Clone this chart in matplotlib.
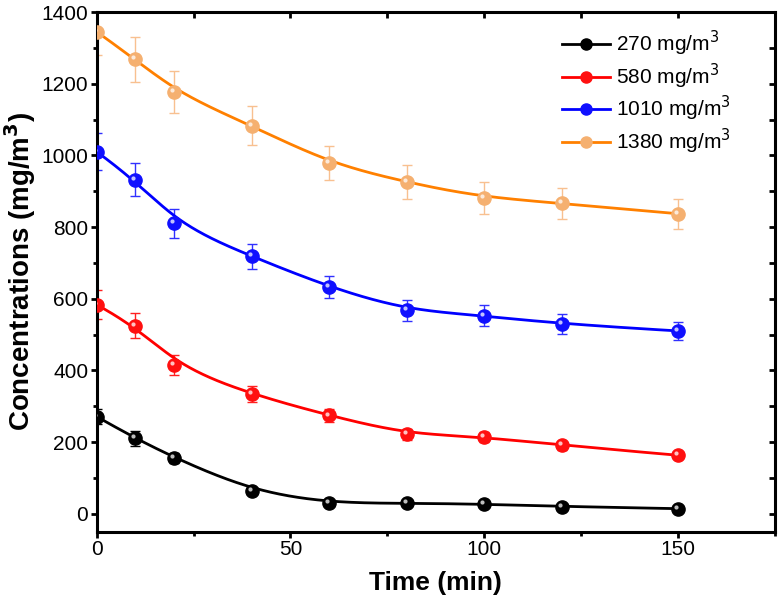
import matplotlib
matplotlib.use("Agg")
import matplotlib.pyplot as plt
import matplotlib.transforms as mtransforms
import numpy as np

plt.rcParams['font.family'] = ['Liberation Sans', 'DejaVu Sans']

time = [0, 10, 20, 40, 60, 80, 100, 120, 150]
labels = ["270 mg/m$^3$", "580 mg/m$^3$", "1010 mg/m$^3$", "1380 mg/m$^3$"]
c270 = [271, 210, 156, 64, 30, 29, 27, 20, 14]
c580 = [583, 525, 414, 333, 274, 222, 215, 191, 163]
c1010 = [1010, 932, 810, 718, 632, 568, 553, 529, 510]
c1380 = [1345, 1268, 1177, 1083, 978, 925, 881, 866, 837]
e270 = [22, 20, 14, 8, 6, 5, 5, 5, 5]
e580 = [40, 35, 28, 22, 18, 15, 14, 12, 10]
e1010 = [51, 46, 40, 35, 30, 29, 28, 27, 26]
e1380 = [64, 63, 58, 54, 48, 47, 44, 43, 42]

line_colors = ["black", "#ff0000", "#0000ff", "#ff8000"]
mark_colors = ["black", "#ff1010", "#1010ff", "#f5b070"]
err_colors = ["black", "#ff2020", "#3030ff", "#f8c090"]


def bspline(px, py, n=500):
  # clamped cubic B-spline with the data points as control points
  P = np.column_stack([px, py]).astype(float)
  k = 3; m = len(P)
  knots = np.concatenate([[0.0] * k, np.linspace(0, 1, m - k + 1), [1.0] * k])
  u = np.linspace(0, 1 - 1e-9, n)

  def basis(i, p):
    if p == 0:
      return ((knots[i] <= u) & (u < knots[i + 1])).astype(float)
    out = np.zeros_like(u)
    d1 = knots[i + p] - knots[i]
    d2 = knots[i + p + 1] - knots[i + 1]
    if d1 > 0:
      out += (u - knots[i]) / d1 * basis(i, p - 1)
    if d2 > 0:
      out += (knots[i + p + 1] - u) / d2 * basis(i + 1, p - 1)
    return out

  B = np.array([basis(i, k) for i in range(m)])
  C = B.T @ P
  return C[:, 0], C[:, 1]


fig = plt.figure(figsize=(7.79, 6), dpi=100)
ax = fig.add_axes([0.124, 0.114, 0.871, 0.866])

shift = mtransforms.ScaledTranslation(-1.4/72, 1.4/72, fig.dpi_scale_trans)
series = [(c270, e270), (c580, e580), (c1010, e1010), (c1380, e1380)]
for i, (vals, errs) in enumerate(series):
  ax.errorbar(time, vals, yerr=errs, fmt='none', ecolor=err_colors[i],
              elinewidth=1, capsize=3.5, capthick=1, zorder=2)
  cx, cy = bspline(time, vals)
  ax.plot(cx, cy, color=line_colors[i], lw=2, zorder=3)
  ax.plot(time, vals, 'o', color=mark_colors[i], ms=9.5, mec=mark_colors[i], zorder=4)
  ax.plot(time, vals, 'o', color='white', ms=3, alpha=0.75, mec='none', zorder=5,
          transform=ax.transData + shift)
  ax.plot([], [], '-o', color=line_colors[i], mfc=mark_colors[i], mec=mark_colors[i],
          ms=8, lw=2, label=labels[i])

ax.set_xlim(0, 175)
ax.set_ylim(-50, 1400)
ax.set_xticks([0, 50, 100, 150])
ax.set_xticks([25, 75, 125, 175], minor=True)
ax.set_yticks(np.arange(0, 1401, 200))
ax.set_yticks(np.arange(100, 1400, 200), minor=True)
for s in ax.spines.values():
  s.set_linewidth(2.2)
ax.tick_params(which='major', direction='out', length=4, width=2, labelsize=15, pad=2)
ax.tick_params(which='minor', direction='out', length=3, width=2)

sx = ax.secondary_xaxis('top')
sx.set_xticks([0, 50, 100, 150]); sx.set_xticks([25, 75, 125, 175], minor=True)
sx.tick_params(which='both', direction='in', length=4, width=2, labeltop=False)
sy = ax.secondary_yaxis('right')
sy.set_yticks(np.arange(0, 1401, 200)); sy.set_yticks(np.arange(100, 1400, 200), minor=True)
sy.tick_params(which='both', direction='in', length=4, width=2, labelright=False)

ax.set_xlabel("Time (min)", fontsize=19, fontweight='bold')
ax.set_ylabel("Concentrations (mg/m$^\\mathbf{3}$)", fontsize=20, fontweight='bold')
ax.xaxis.set_label_coords(0.5, -0.075)
ax.yaxis.set_label_coords(-0.087, 0.5)

ax.legend(loc='upper left', bbox_to_anchor=(562 / 779, 1 - 29 / 600),
          bbox_transform=fig.transFigure, borderaxespad=0, borderpad=0,
          frameon=False, fontsize=15, handlelength=2.3, labelspacing=0.16,
          handletextpad=0.3)

fig.savefig("out.png", dpi=100)
